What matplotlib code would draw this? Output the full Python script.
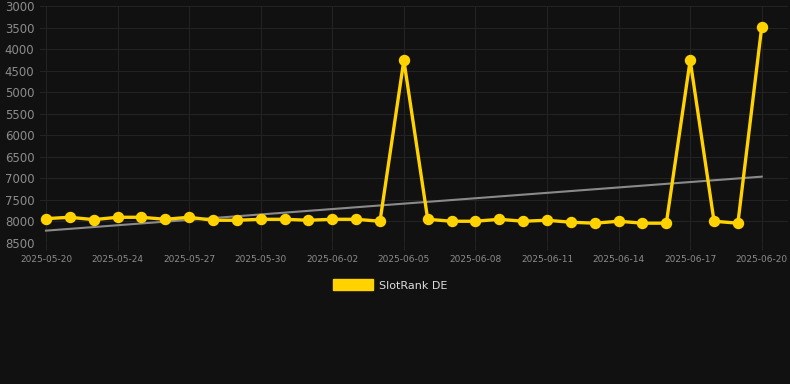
import matplotlib
matplotlib.use("Agg")
import matplotlib.pyplot as plt
import numpy as np
from matplotlib.patches import Patch

dates = ["2025-05-20", "2025-05-22", "2025-05-23", "2025-05-24", "2025-05-25", "2025-05-26",
         "2025-05-27", "2025-05-28", "2025-05-29", "2025-05-30", "2025-05-31", "2025-06-01",
         "2025-06-02", "2025-06-03", "2025-06-04", "2025-06-05", "2025-06-06", "2025-06-07",
         "2025-06-08", "2025-06-09", "2025-06-10", "2025-06-11", "2025-06-12", "2025-06-13",
         "2025-06-14", "2025-06-15", "2025-06-16", "2025-06-17", "2025-06-18", "2025-06-19",
         "2025-06-20"]
rank = [7935, 7903, 7958, 7903, 7903, 7950, 7903, 7972, 7972, 7950, 7950, 7972, 7950, 7950,
        7995, 4260, 7950, 7995, 7995, 7950, 7995, 7972, 8018, 8040, 7995, 8040, 8040, 4260,
        7995, 8040, 3480]
yticks = [3000, 3500, 4000, 4500, 5000, 5500, 6000, 6500, 7000, 7500, 8000, 8500]
series_label = "SlotRank DE"

bg = "#111111"
gold = "#FFD200"
grid = "#232323"

fig = plt.figure(figsize=(7.9, 3.84), dpi=100, facecolor=bg)
ax = fig.add_axes([40/790, 1-243/384, 748/790, 237/384], facecolor=bg)

x = np.arange(len(dates))
coef = np.polyfit(x, rank, 1)
ax.plot(x, np.polyval(coef, x), color="#8a8a8a", lw=1.5, zorder=2)
ax.plot(x, rank, color=gold, lw=2.4, marker="o", markersize=7.2,
        solid_joinstyle="miter", zorder=3)

ax.set_ylim(8500, 3000)
ax.set_xlim(-0.25, 31.1)
ax.set_yticks(yticks)
ax.set_yticklabels([str(v) for v in yticks])
ax.set_xticks(x[::3])
ax.set_xticklabels(dates[::3])
ax.grid(True, color=grid, lw=0.8)
for s in ax.spines.values():
    s.set_visible(False)
ax.tick_params(axis="y", length=0, pad=4, labelsize=8.5, labelcolor="#8c8c8c")
ax.tick_params(axis="x", length=5, color=grid, pad=4, labelsize=6.5, labelcolor="#8c8c8c")

leg = fig.legend(handles=[Patch(facecolor=gold, edgecolor=gold)], labels=[series_label],
                 loc="center", bbox_to_anchor=(390/790, 1-285/384), frameon=False,
                 handlelength=3.6, handleheight=1.1, fontsize=8, labelcolor="#dddddd",
                 handletextpad=0.5)

fig.savefig("out.png", dpi=100, facecolor=bg)
